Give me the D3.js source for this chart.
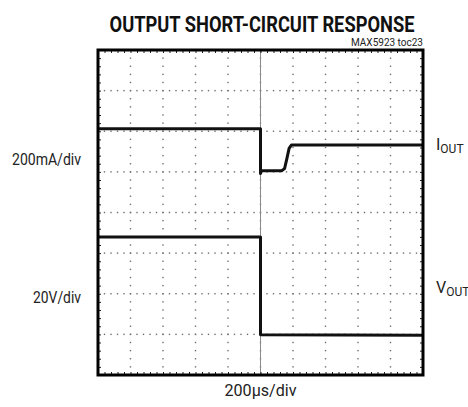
<!DOCTYPE html>
<html>
<head>
<meta charset="utf-8">
<script src="https://cdn.jsdelivr.net/npm/d3@7"></script>
<style>
  body { margin: 0; background: #fff; }
  svg { display: block; }
  text { font-family: "Liberation Sans Narrow", "Arial Narrow", "Roboto", sans-serif; fill: #222; }
</style>
</head>
<body>
<svg width="468" height="407"></svg>
<script>
'use strict';

// scope screen: 10 divisions of 200us, 8 vertical divisions
const time_major = d3.range(0, 2001, 200);
const time_minor = d3.range(0, 2001, 40);
const level_major = d3.range(0, 9, 1);
const level_minor = d3.range(0, 8.001, 0.2);

// traces, time in us, level in divisions above the bottom edge
const iout_time  = [0, 1000, 1000, 1006, 1130, 1148, 1162, 1176, 1190, 2000];
const iout_level = [6.06, 6.06, 4.96, 5.03, 5.03, 5.08, 5.32, 5.58, 5.66, 5.66];
const vout_time  = [0, 1000, 1000, 2000];
const vout_level = [3.40, 3.40, 0.99, 0.98];

const title = 'OUTPUT SHORT-CIRCUIT RESPONSE';
const figure_id = 'MAX5923 toc23';
const scale_labels = ['200mA/div', '20V/div'];
const trace_names = [['I', 'OUT'], ['V', 'OUT']];
const time_label = '200\u00b5s/div';

const svg = d3.select('svg');
const frame_l = 98, frame_r = 423, frame_t = 50, frame_b = 375;

const x = d3.scaleLinear().domain([0, 2000]).range([frame_l, frame_r]);
const y = d3.scaleLinear().domain([0, 8]).range([frame_b, frame_t]);

// dotted grid on the major divisions
const grid = svg.append('g').attr('fill', '#707070');
for (const t of time_major.slice(1, -1)) {
  grid.selectAll(null).data(level_minor.slice(1, -1)).enter().append('rect')
    .attr('x', x(t) - 0.7).attr('y', d => y(d) - 0.7)
    .attr('width', 1.4).attr('height', 1.4);
}
for (const l of level_major.slice(1, -1)) {
  grid.selectAll(null).data(time_minor.slice(1, -1)).enter().append('rect')
    .attr('x', d => x(d) - 0.7).attr('y', y(l) - 0.7)
    .attr('width', 1.4).attr('height', 1.4);
}

// trigger line
svg.append('line')
  .attr('x1', x(1000)).attr('x2', x(1000))
  .attr('y1', frame_t).attr('y2', frame_b)
  .attr('stroke', '#8a8a8a').attr('stroke-width', 1);

// minor ticks along the frame, pointing inward
function edge(axis, tr) {
  const g = svg.append('g').attr('transform', tr).call(axis);
  g.select('.domain').remove();
  g.selectAll('.tick line').attr('stroke', '#222');
}
edge(d3.axisBottom(x).tickValues(time_minor).tickSize(-3).tickFormat(''), `translate(0,${frame_b})`);
edge(d3.axisTop(x).tickValues(time_minor).tickSize(-3).tickFormat(''), `translate(0,${frame_t})`);
edge(d3.axisLeft(y).tickValues(level_minor).tickSize(-3).tickFormat(''), `translate(${frame_l},0)`);
edge(d3.axisRight(y).tickValues(level_minor).tickSize(-3).tickFormat(''), `translate(${frame_r},0)`);

// traces
const line = d3.line().x(d => x(d[0])).y(d => y(d[1]));
const traces = [d3.zip(iout_time, iout_level), d3.zip(vout_time, vout_level)];
svg.selectAll('.trace').data(traces).enter().append('path')
  .attr('class', 'trace')
  .attr('d', line)
  .attr('fill', 'none')
  .attr('stroke', '#111')
  .attr('stroke-width', 3)
  .attr('stroke-linejoin', 'round');

// frame
svg.append('rect')
  .attr('x', frame_l).attr('y', frame_t)
  .attr('width', frame_r - frame_l).attr('height', frame_b - frame_t)
  .attr('fill', 'none').attr('stroke', '#000').attr('stroke-width', 3);

// texts
// title squeezed horizontally to the condensed width of the original
const title_el = svg.append('text')
  .attr('text-anchor', 'middle')
  .attr('font-size', 22).attr('font-weight', 'bold')
  .style('fill', '#111')
  .text(title);
const title_w = title_el.node().getComputedTextLength();
title_el.attr('transform', `translate(262,32) scale(${305 / title_w},1)`);

svg.append('text')
  .attr('x', frame_r).attr('y', 46)
  .attr('text-anchor', 'end')
  .attr('font-size', 11)
  .attr('textLength', 72).attr('lengthAdjust', 'spacingAndGlyphs')
  .text(figure_id);

const label_y = [y(5.3), y(1.9)];
const label_w = [69, 48];
svg.selectAll('.scale').data(scale_labels).enter().append('text')
  .attr('class', 'scale')
  .attr('x', 81).attr('y', (d, i) => label_y[i] + 5)
  .attr('text-anchor', 'end')
  .attr('font-size', 16)
  .attr('textLength', (d, i) => label_w[i]).attr('lengthAdjust', 'spacingAndGlyphs')
  .text(d => d);

const name_y = [y(5.66) + 5, y(2.1) + 3];
const names = svg.selectAll('.name').data(trace_names).enter().append('text')
  .attr('class', 'name')
  .attr('x', 436).attr('y', (d, i) => name_y[i])
  .attr('font-size', 16);
names.append('tspan').text(d => d[0]);
names.append('tspan').attr('font-size', 12).attr('dy', 3).text(d => d[1]);

svg.append('text')
  .attr('x', x(1000)).attr('y', 396)
  .attr('text-anchor', 'middle')
  .attr('font-size', 16)
  .attr('textLength', 72).attr('lengthAdjust', 'spacingAndGlyphs')
  .text(time_label);
</script>
</body>
</html>
